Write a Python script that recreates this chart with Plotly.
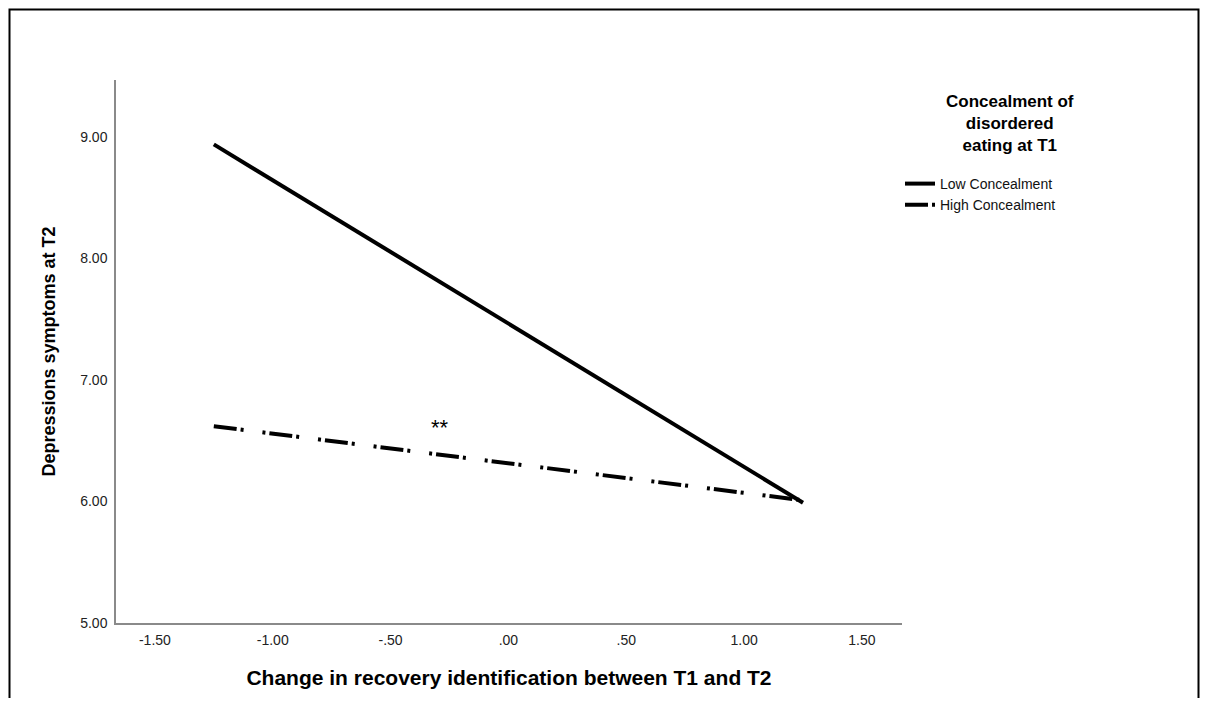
import plotly.graph_objects as go

# ---- data ----
x_points = [-1.25, 1.25]
low_concealment = [8.94, 5.99]
high_concealment = [6.62, 6.01]
series_names = ["Low Concealment", "High Concealment"]
legend_title_lines = ["Concealment of", "disordered", "eating at T1"]
x_tick_vals = [-1.5, -1.0, -0.5, 0.0, 0.5, 1.0, 1.5]
x_tick_text = ["-1.50", "-1.00", "-.50", ".00", ".50", "1.00", "1.50"]
y_tick_vals = [5, 6, 7, 8, 9]
y_tick_text = ["5.00", "6.00", "7.00", "8.00", "9.00"]
star_x, star_y, star_text = -0.29, 6.61, "**"

FONT = "Liberation Sans, Arial, sans-serif"

# figure size chosen so the page (with its 8px body margin) fits the window
W, H = 1192, 690
# plot area in page pixels
PL, PR, PT, PB = 116, 902, 80, 623


def px_to_paper_x(px):
    return (px - PL) / (PR - PL)


def px_to_paper_y(py):
    return (PB - py) / (PB - PT)


fig = go.Figure()
fig.add_trace(go.Scatter(x=x_points, y=low_concealment, mode="lines", name=series_names[0],
                         line=dict(color="black", width=4)))
fig.add_trace(go.Scatter(x=x_points, y=high_concealment, mode="lines", name=series_names[1],
                         line=dict(color="black", width=4, dash="23px,4px,3px,19px,3px,4px")))

fig.add_annotation(x=star_x, y=star_y, text=star_text, showarrow=False,
                   font=dict(family=FONT, size=22, color="black"))

# legend title (centered block)
fig.add_annotation(xref="paper", yref="paper", x=px_to_paper_x(1010), y=px_to_paper_y(123),
                   xanchor="center", yanchor="middle", align="center", showarrow=False,
                   text="<b>" + "<br>".join(legend_title_lines) + "</b>",
                   font=dict(family=FONT, size=17, color="black"))

# outer frame
fig.add_shape(type="rect", xref="paper", yref="paper",
              x0=px_to_paper_x(9.5), x1=px_to_paper_x(1198.5),
              y0=px_to_paper_y(760), y1=px_to_paper_y(9.5),
              line=dict(color="black", width=2), layer="below")

axis_common = dict(showline=True, linecolor="#8a8a8a", linewidth=1.5, showgrid=False,
                   zeroline=False, ticks="", mirror=False,
                   tickfont=dict(family=FONT, size=14, color="#222"))

fig.update_layout(
    width=W, height=H,
    margin=dict(l=PL - 8, r=W + 8 - PR, t=PT - 8, b=H + 8 - PB),
    paper_bgcolor="white", plot_bgcolor="white",
    font=dict(family=FONT, color="black"),
    xaxis=dict(range=[-1.665, 1.67], tickvals=x_tick_vals, ticktext=x_tick_text,
               ticklabelstandoff=3,
               title=dict(text="<b>Change in recovery identification between T1 and T2</b>",
                          font=dict(family=FONT, size=21), standoff=24),
               **axis_common),
    yaxis=dict(range=[5.0, 9.47], tickvals=y_tick_vals, ticktext=y_tick_text,
               ticklabelstandoff=4,
               title=dict(text="<b>Depressions symptoms at T2</b>",
                          font=dict(family=FONT, size=18), standoff=20),
               **axis_common),
    legend=dict(x=px_to_paper_x(900), y=px_to_paper_y(168), xanchor="left", yanchor="top",
                font=dict(family=FONT, size=14, color="#111"),
                itemwidth=30, tracegroupgap=0, bgcolor="rgba(0,0,0,0)"),
    showlegend=True,
)

fig.write_html("out.html")
